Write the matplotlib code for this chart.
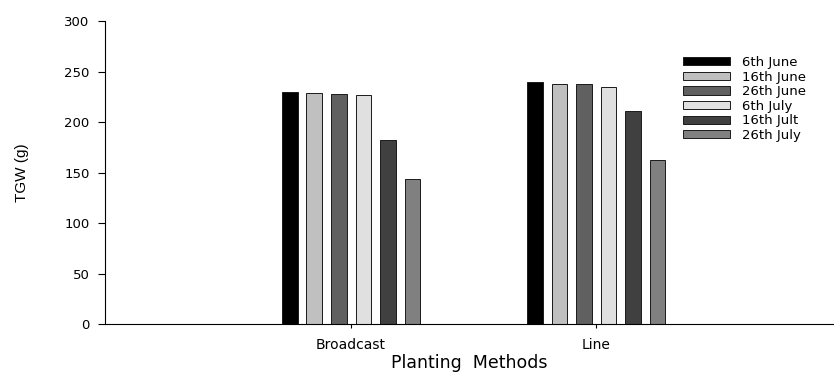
import numpy as np
import matplotlib
matplotlib.use("Agg")
import matplotlib.pyplot as plt

# data
methods = ["Broadcast", "Line"]
dates = ["6th June", "16th June", "26th June", "6th July", "16th Jult", "26th July"]
tgw = {
    "6th June":  [229.5, 239.5],
    "16th June": [228.5, 238.0],
    "26th June": [227.5, 237.5],
    "6th July":  [226.5, 234.5],
    "16th Jult": [182.0, 211.0],
    "26th July": [143.5, 162.5],
}
colors = ["#000000", "#c0c0c0", "#606060", "#e0e0e0", "#404040", "#808080"]

plt.rcParams["font.family"] = ["DejaVu Sans"]

fig = plt.figure(figsize=(8.34, 3.76), dpi=100)
ax = fig.add_axes([0.1259, 0.1383, 0.8741, 0.8058])

x = np.arange(len(methods))
step = 0.1
width = 0.064
for i, d in enumerate(dates):
    offs = (i - (len(dates) - 1) / 2) * step
    ax.bar(x + offs, tgw[d], width, color=colors[i], edgecolor="#1a1a1a",
           linewidth=0.7, label=d)

ax.set_xlim(-1.004, 1.97)
ax.set_ylim(0, 300)
ax.set_yticks(np.arange(0, 301, 50))
ax.set_xticks(x)
ax.set_xticklabels(methods, fontsize=10)
ax.tick_params(axis="y", direction="out", length=5, width=0.8, labelsize=9.5, pad=6)
ax.tick_params(axis="x", direction="out", length=3, width=0.8, pad=7)
ax.spines["top"].set_visible(False)
ax.spines["right"].set_visible(False)
for s in ("left", "bottom"):
    ax.spines[s].set_linewidth(0.8)

ax.set_xlabel("Planting  Methods", fontsize=12.5)
ax.xaxis.set_label_coords(0.5, -0.1)
ax.xaxis.label.set_va("top")
ax.set_ylabel("TGW (g)", fontsize=11, family=["Liberation Sans", "DejaVu Sans"])
ax.yaxis.set_label_coords(-0.104, 0.5)

leg = ax.legend(loc="upper left", bbox_to_anchor=((683 - 105) / 729, (324 - 56) / 303),
                frameon=False, fontsize=9.5, handlelength=3.55, handleheight=0.58,
                labelspacing=0.12, handletextpad=0.9, borderpad=0, borderaxespad=0)

fig.savefig("out.png", dpi=100)
